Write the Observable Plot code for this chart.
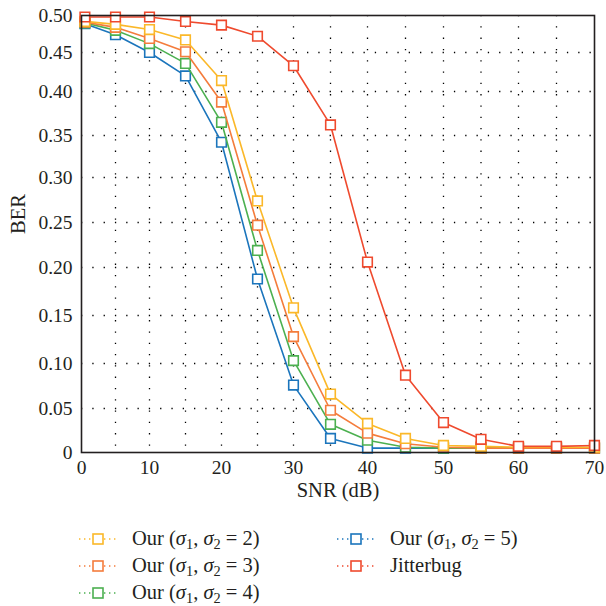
<!DOCTYPE html>
<html>
<head>
<meta charset="utf-8">
<script src="https://cdn.jsdelivr.net/npm/d3@7"></script>
<script src="https://cdn.jsdelivr.net/npm/@observablehq/plot@0.6"></script>
<style>
  html, body { margin: 0; padding: 0; background: #fff; }
  #chart { width: 606px; font-family: "Liberation Serif", "DejaVu Serif", serif; color: #231f20; }
  .legend { display: grid; grid-template-columns: 258px 240px; margin-left: 78px; row-gap: 0; margin-top: 15px; }
  .item { display: flex; align-items: center; height: 27px; font-size: 20.5px; }
  .item svg { margin-right: 14px; flex: none; }
  sub { font-size: 0.7em; vertical-align: -0.3em; line-height: 0; }
</style>
</head>
<body>
<div id="chart"></div>
<script>
// ---- data ----
const snr = [0.5, 5, 10, 15, 20, 25, 30, 35, 40, 45, 50, 55, 60, 65, 70];
const berOur2 = [0.492, 0.488, 0.481, 0.467, 0.414, 0.274, 0.158, 0.066, 0.033, 0.016, 0.008, 0.007, 0.006, 0.006, 0.006];
const berOur3 = [0.491, 0.484, 0.469, 0.451, 0.388, 0.247, 0.128, 0.048, 0.022, 0.010, 0.006, 0.005, 0.005, 0.005, 0.005];
const berOur4 = [0.490, 0.480, 0.462, 0.436, 0.365, 0.219, 0.103, 0.032, 0.014, 0.006, 0.005, 0.005, 0.005, 0.005, 0.005];
const berOur5 = [0.489, 0.474, 0.450, 0.420, 0.342, 0.188, 0.076, 0.016, 0.005, 0.005, 0.005, 0.005, 0.005, 0.005, 0.005];
const berJitterbug = [0.498, 0.498, 0.498, 0.492, 0.487, 0.472, 0.433, 0.362, 0.206, 0.087, 0.034, 0.015, 0.007, 0.007, 0.008];
const sigmas = [2, 3, 4, 5];
const seriesKeys = ["Our2", "Our3", "Our4", "Our5", "Jitterbug"];
const seriesColors = ["#FBB829", "#F47C3C", "#4CB050", "#1B75BC", "#EF4A2E"];
const xTickLabels = [0, 10, 20, 30, 40, 50, 60, 70];
const xGridValues = [5, 10, 15, 20, 25, 30, 35, 40, 45, 50, 55, 60, 65];
const yTickLabels = [0, 0.05, 0.10, 0.15, 0.20, 0.25, 0.30, 0.35, 0.40, 0.45, 0.50];

// ---- table ----
const seriesValues = [berOur2, berOur3, berOur4, berOur5, berJitterbug];
const rows = [];
seriesKeys.forEach((k, i) => snr.forEach((x, j) => rows.push({series: k, snr: x, ber: seriesValues[i][j]})));

// ---- layout / scales (the source chart's axes are slightly non-uniform; a
// piecewise warp reproduces the spacing of its tick marks) ----
const W = 606, H = 510;
const xTickPx = [81, 149, 221, 293, 367, 443, 518, 594];
const yTickPx = [452, 408, 363, 315, 267, 222, 177, 135, 91, 52, 15];
const xPiece = d3.scaleLinear(xTickLabels, xTickPx);
const xUni = d3.scaleLinear([0, 70], [xTickPx[0], xTickPx[xTickPx.length - 1]]);
const yPiece = d3.scaleLinear(yTickLabels, yTickPx);
const yUni = d3.scaleLinear([0, 0.5], [yTickPx[0], yTickPx[yTickPx.length - 1]]);
const xWarp = v => xUni.invert(xPiece(v));
const yWarp = v => yUni.invert(yPiece(v));

const fontFamily = "Liberation Serif, DejaVu Serif, serif";
const fs = 19;

const drawOrder = ["Our5", "Our4", "Our3", "Our2", "Jitterbug"];
const seriesMarks = drawOrder.flatMap(k => {
  const d = rows.filter(r => r.series === k);
  return [
    Plot.line(d, {x: "snr", y: "ber", stroke: "series", strokeWidth: 1.6}),
    Plot.dot(d, {x: "snr", y: "ber", stroke: "series", fill: "white", symbol: "square", r: 5.4, strokeWidth: 1.6})
  ];
});

const chart = Plot.plot({
  width: W, height: H,
  marginLeft: 81, marginRight: 12, marginTop: 15, marginBottom: H - 452,
  style: {fontFamily, fontSize: fs + "px", color: "#231f20", background: "white"},
  x: {domain: [0, 70], transform: xWarp, label: null, axis: null},
  y: {domain: [0, 0.5], transform: yWarp, label: null, axis: null},
  color: {domain: seriesKeys, range: seriesColors},
  marks: [
    Plot.gridX(xGridValues, {stroke: "#000", strokeOpacity: 1, strokeWidth: 1.3, strokeDasharray: "1.3,10"}),
    Plot.gridY(yTickLabels.slice(1, -1), {stroke: "#000", strokeOpacity: 1, strokeWidth: 1.3, strokeDasharray: "1.3,10"}),
    Plot.axisX(xTickLabels, {tickSize: 0, tickPadding: 8, fontSize: fs + 0.5, label: null, tickFormat: d => String(d)}),
    Plot.axisY(yTickLabels, {tickSize: 0, tickPadding: 9, fontSize: fs + 0.5, label: null, tickFormat: d => d === 0 ? "0" : d3.format(".2f")(d)}),
    Plot.text(["BER"], {frameAnchor: "left", rotate: -90, dx: -63, fontSize: 20.5, text: d => d}),
    Plot.text(["SNR (dB)"], {frameAnchor: "bottom", dy: 44, fontSize: 20.5, text: d => d}),
    ...seriesMarks,
    Plot.frame({stroke: "#231f20", strokeWidth: 1.6})
  ]
});

const root = document.getElementById("chart");
root.appendChild(chart);

// ---- legend ----
function legendItem(color, labelHTML) {
  const el = document.createElement("div");
  el.className = "item";
  el.innerHTML = `<svg width="40" height="14">
    <line x1="1" x2="39" y1="7" y2="7" stroke="${color}" stroke-width="1.4" stroke-dasharray="1.4,3.6"/>
    <rect x="15" y="2" width="10" height="10" fill="white" stroke="${color}" stroke-width="1.6"/>
  </svg><span>${labelHTML}</span>`;
  return el;
}
const ourLabel = s => `Our (<i>σ</i><sub>1</sub>, <i>σ</i><sub>2</sub> = ${s})`;
const legend = document.createElement("div");
legend.className = "legend";
const cells = [
  legendItem(seriesColors[0], ourLabel(sigmas[0])),
  legendItem(seriesColors[3], ourLabel(sigmas[3])),
  legendItem(seriesColors[1], ourLabel(sigmas[1])),
  legendItem(seriesColors[4], "Jitterbug"),
  legendItem(seriesColors[2], ourLabel(sigmas[2]))
];
cells.forEach(c => legend.appendChild(c));
root.appendChild(legend);
</script>
</body>
</html>
